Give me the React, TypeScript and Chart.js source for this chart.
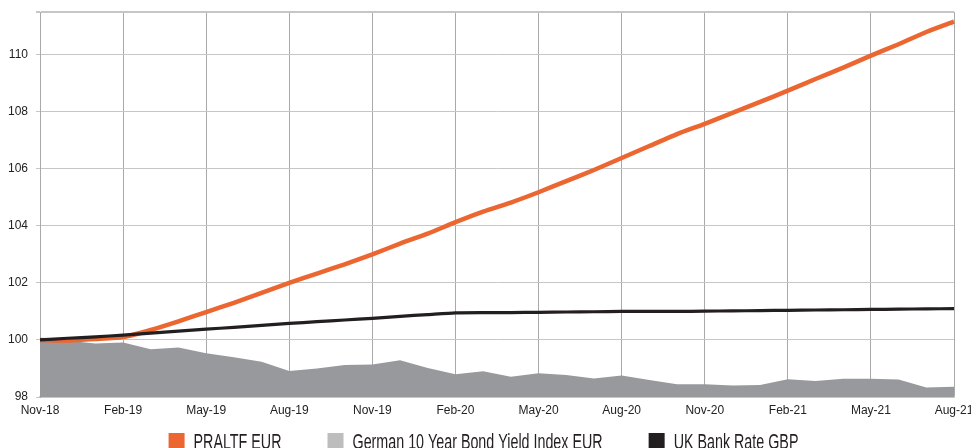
import { useEffect, useRef } from 'react';
import { Chart, registerables } from 'chart.js';

Chart.register(...registerables);

const months = [
  'Nov-18', 'Dec-18', 'Jan-19', 'Feb-19', 'Mar-19', 'Apr-19', 'May-19', 'Jun-19', 'Jul-19', 'Aug-19',
  'Sep-19', 'Oct-19', 'Nov-19', 'Dec-19', 'Jan-20', 'Feb-20', 'Mar-20', 'Apr-20', 'May-20', 'Jun-20',
  'Jul-20', 'Aug-20', 'Sep-20', 'Oct-20', 'Nov-20', 'Dec-20', 'Jan-21', 'Feb-21', 'Mar-21', 'Apr-21',
  'May-21', 'Jun-21', 'Jul-21', 'Aug-21',
];

const praltf = [
  100.0, 99.98, 100.03, 100.1, 100.35, 100.65, 100.98, 101.3, 101.65, 102.0,
  102.33, 102.65, 103.0, 103.38, 103.73, 104.13, 104.5, 104.82, 105.18, 105.57,
  105.96, 106.38, 106.8, 107.22, 107.58, 107.96, 108.35, 108.74, 109.15, 109.55,
  109.97, 110.37, 110.8, 111.16,
];

const germanBond = [
  100.0, 99.97, 99.88, 99.91, 99.67, 99.74, 99.53, 99.39, 99.24, 98.91,
  99.0, 99.12, 99.14, 99.29, 99.02, 98.8, 98.9, 98.71, 98.83, 98.77,
  98.65, 98.75, 98.6, 98.45, 98.45, 98.4, 98.42, 98.62, 98.56, 98.64,
  98.64, 98.61, 98.33, 98.36,
];

const ukBankRate = [
  100.0, 100.06, 100.11, 100.17, 100.24, 100.31, 100.38, 100.44, 100.51, 100.58,
  100.64, 100.7, 100.76, 100.83, 100.89, 100.95, 100.96, 100.96, 100.97, 100.98,
  100.99, 101.0, 101.0, 101.0, 101.01, 101.02, 101.03, 101.04, 101.05, 101.06,
  101.07, 101.08, 101.09, 101.1,
];

const seriesLabels = ['PRALTF EUR', 'German 10 Year Bond Yield Index EUR', 'UK Bank Rate GBP'];
const legendColors = ['#ec6632', '#bdbdbd', '#231f20'];

const Y_MIN = 98;
const Y_MAX = 111.5;
const Y_STEP = 2;

const TICK_FONT = { family: "'Liberation Sans', Arial, Helvetica, sans-serif", size: 12 };
const LEGEND_FONT_SIZE = 22;
const LEGEND_CONDENSE = 0.65;
const LEGEND_BOX = 16;
const LEGEND_BOX_GAP = 9;
const LEGEND_ITEM_GAP = 46;

const legendPlugin = {
  id: 'condensedLegend',
  afterDraw(chart: any) {
    const ctx = chart.ctx as CanvasRenderingContext2D;
    ctx.save();
    ctx.font = `${LEGEND_FONT_SIZE}px 'Liberation Sans', Arial, sans-serif`;
    ctx.textBaseline = 'alphabetic';
    const labels: string[] = chart.data.datasets.map((d: any) => d.label);
    const widths = labels.map((t) => ctx.measureText(t).width * LEGEND_CONDENSE);
    const total =
      widths.reduce((a, b) => a + b, 0) +
      labels.length * (LEGEND_BOX + LEGEND_BOX_GAP) +
      (labels.length - 1) * LEGEND_ITEM_GAP;
    let x = chart.width / 2 - total / 2 - 2;
    const boxTop = chart.height - 15;
    const baseline = boxTop + LEGEND_FONT_SIZE * 0.716;
    labels.forEach((t, i) => {
      ctx.fillStyle = legendColors[i];
      ctx.fillRect(x, boxTop, LEGEND_BOX, LEGEND_BOX);
      x += LEGEND_BOX + LEGEND_BOX_GAP;
      ctx.save();
      ctx.translate(x, baseline);
      ctx.scale(LEGEND_CONDENSE, 1);
      ctx.fillStyle = '#231f20';
      ctx.fillText(t, 0, 0);
      ctx.restore();
      x += widths[i] + LEGEND_ITEM_GAP;
    });
    ctx.restore();
  },
};

export default function App() {
  const canvasRef = useRef<HTMLCanvasElement | null>(null);

  useEffect(() => {
    document.body.style.margin = '0';
    document.body.style.overflow = 'hidden';
    const canvas = canvasRef.current;
    if (!canvas) return;
    const chart = new Chart(canvas, {
      type: 'line',
      data: {
        labels: months,
        datasets: [
          {
            label: seriesLabels[0],
            data: praltf,
            borderColor: '#ec6632',
            backgroundColor: '#ec6632',
            borderWidth: 4.5,
            pointRadius: 0,
            tension: 0.2,
            fill: false,
            order: 1,
          },
          {
            label: seriesLabels[1],
            data: germanBond,
            borderColor: 'rgba(0,0,0,0)',
            backgroundColor: '#98999d',
            borderWidth: 0,
            pointRadius: 0,
            tension: 0,
            fill: 'start',
            order: 2,
          },
          {
            label: seriesLabels[2],
            data: ukBankRate,
            borderColor: '#231f20',
            backgroundColor: '#231f20',
            borderWidth: 3.2,
            pointRadius: 0,
            tension: 0.2,
            fill: false,
            order: 0,
          },
        ],
      },
      options: {
        animation: false,
        responsive: true,
        maintainAspectRatio: false,
        layout: { padding: { top: 12, left: 0, right: 0, bottom: 0 } },
        plugins: {
          legend: { display: false },
          tooltip: { enabled: false },
        },
        scales: {
          x: {
            type: 'category',
            offset: false,
            grid: {
              color: '#a9a9a9',
              lineWidth: 1,
              drawTicks: false,
            },
            border: { color: '#c8c8c8', width: 2 },
            ticks: {
              autoSkip: false,
              maxRotation: 0,
              padding: 6,
              color: '#222222',
              font: TICK_FONT,
              callback: function (this: any, _v: any, index: number) {
                return index % 3 === 0 ? months[index] : null;
              },
            },
            afterFit: (scale: any) => {
              scale.height = 51;
              scale.paddingRight = 17;
            },
          },
          y: {
            type: 'linear',
            min: Y_MIN,
            max: Y_MAX,
            grid: {
              color: '#c6c6c6',
              lineWidth: (c: any) => (c.tick && c.tick.value === Y_MAX ? 2 : 1),
              tickLength: 4,
            },
            border: { color: '#a9a9a9', width: 1 },
            ticks: {
              stepSize: Y_STEP,
              padding: 8,
              color: '#222222',
              font: TICK_FONT,
              callback: (v: any) => (Number(v) % Y_STEP === 0 ? String(v) : ''),
            },
            afterFit: (scale: any) => {
              scale.width = 40;
              scale.paddingTop = 0;
              scale.paddingBottom = 0;
            },
          },
        },
      },
      plugins: [legendPlugin],
    });
    return () => chart.destroy();
  }, []);

  return (
    <div style={{ position: 'relative', width: '971px', height: '448px' }}>
      <canvas ref={canvasRef} />
    </div>
  );
}
